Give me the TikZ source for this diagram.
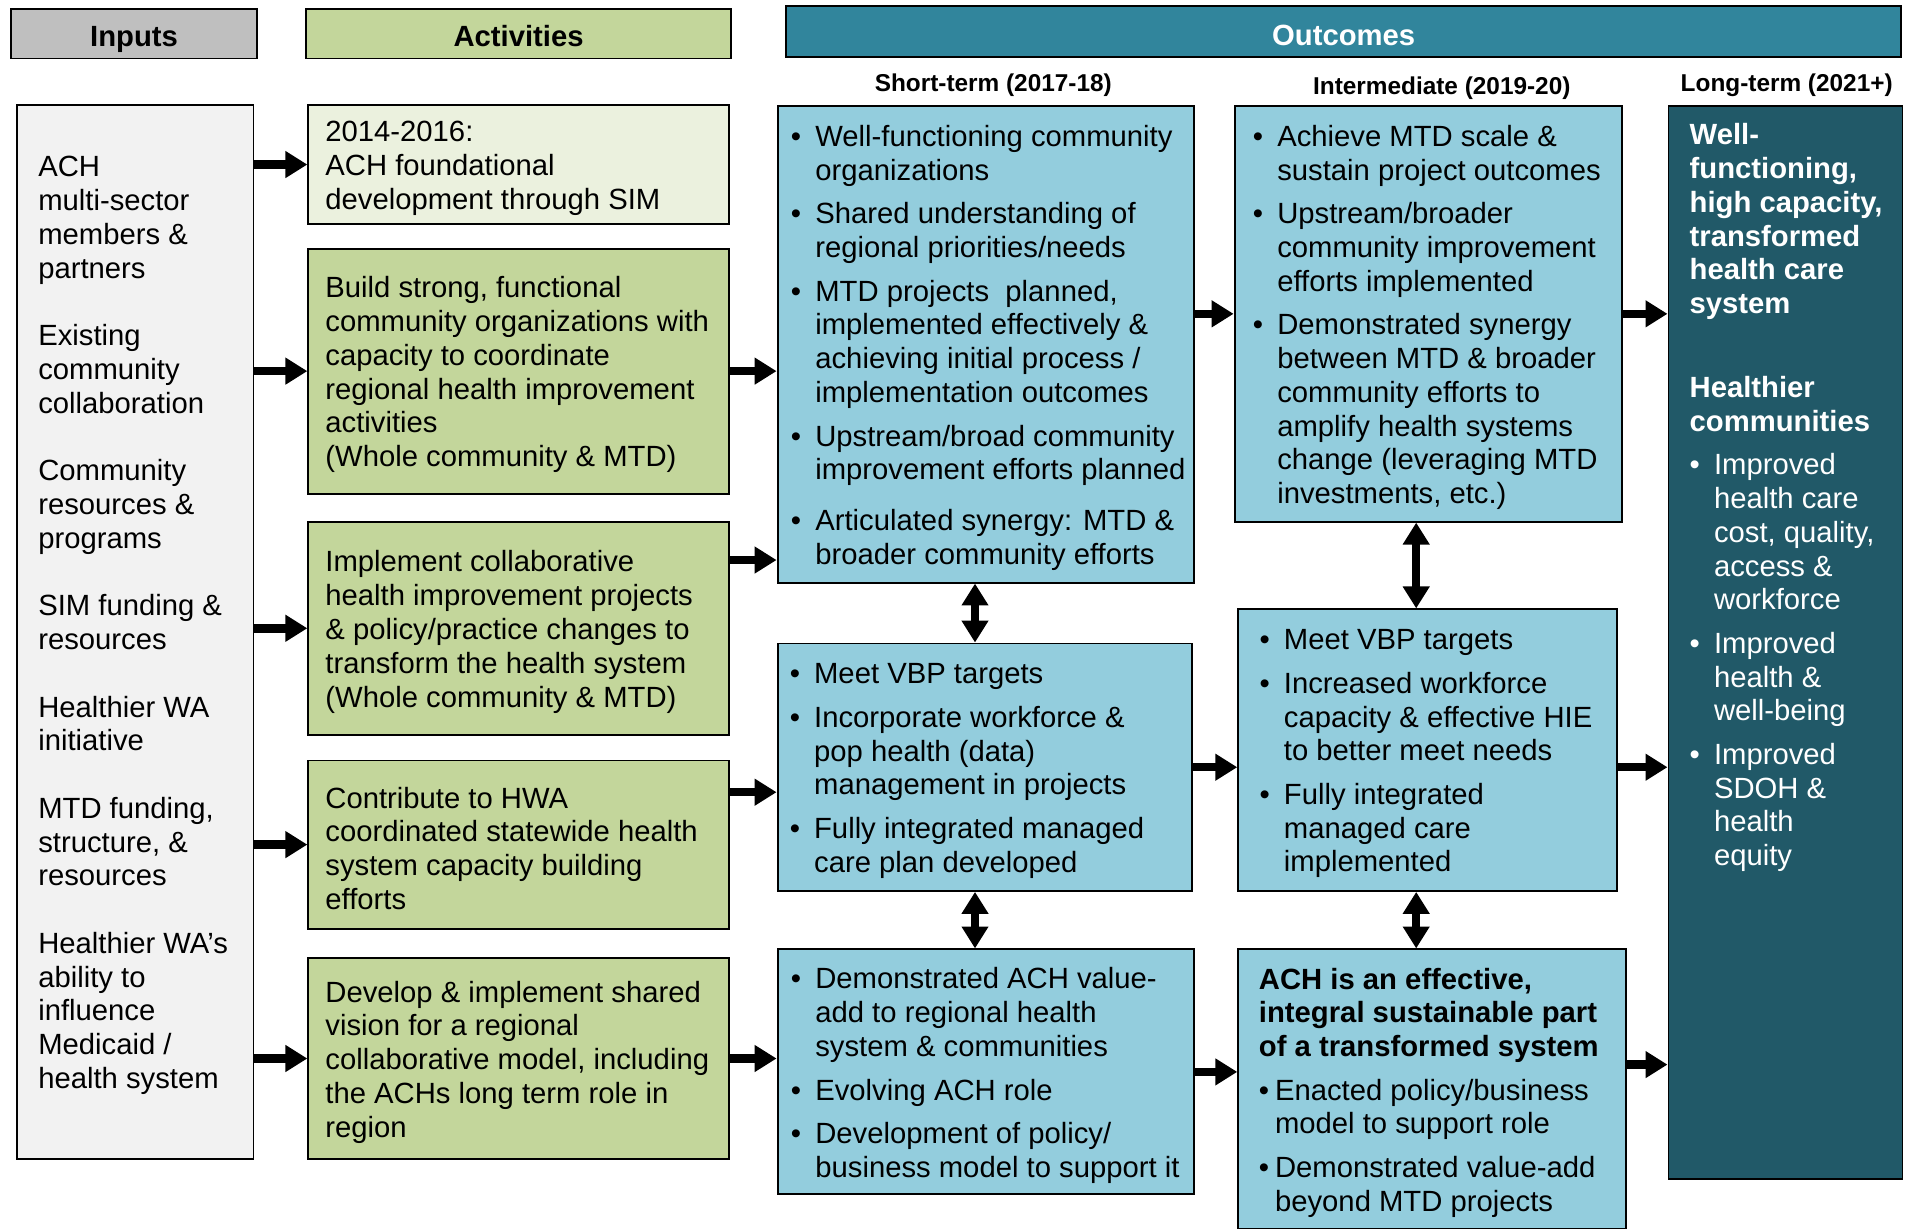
\documentclass[tikz,border=0pt]{standalone}
\usepackage{fontspec}
\setmainfont{Liberation Sans}
\usepackage{xcolor}
\usetikzlibrary{arrows.meta}

\definecolor{ingray}{HTML}{BFBFBF}
\definecolor{infill}{HTML}{F2F2F2}
\definecolor{actgreen}{HTML}{C3D69B}
\definecolor{actlight}{HTML}{EBF1DE}
\definecolor{outteal}{HTML}{31859C}
\definecolor{outblue}{HTML}{93CDDD}
\definecolor{ltteal}{HTML}{215968}

\newcommand{\bitem}[1][10pt]{\par\hangindent=#1\hangafter=1\noindent\makebox[#1][l]{\textbullet}}
\newcommand{\boxtext}[2]{\begin{minipage}{#1}\vspace*{3pt}\fontsize{12}{13.85}\selectfont\raggedright\setlength{\parskip}{4pt}#2\end{minipage}}

\tikzset{
    head/.style={draw, line width=0.8pt, minimum height=20.5pt, text height=11pt, text depth=0pt, font=\bfseries\fontsize{12}{14}\selectfont},
    period/.style={font=\bfseries\fontsize{10}{12}\selectfont},
    box/.style={draw, line width=0.8pt, inner sep=0pt},
    arr/.style={line width=3.5pt, -{Triangle[length=9pt,width=10.5pt]}},
    darr/.style={line width=3.3pt, {Triangle[length=9pt,width=10.5pt]}-{Triangle[length=9pt,width=10.5pt]}}
}

\begin{document}
\begin{tikzpicture}[x=0.5pt, y=-0.5pt]
        \useasboundingbox (0,0) rectangle (1568,1008);

        % column headings
        \node[head, fill=ingray, minimum width=101pt] (inhead) at (110,27.5) {Inputs};
        \node[head, fill=actgreen, minimum width=174.5pt] (acthead) at (425.5,27.5) {Activities};
        \node[head, fill=outteal, text=white, minimum width=457.5pt, minimum height=21pt] (outhead) at (1102.5,26) {Outcomes};

        \node[period] (shortlabel) at (815,70) {Short-term (2017-18)};
        \node[period] (midlabel) at (1183,72) {Intermediate (2019-20)};
        \node[period] (longlabel) at (1466,70) {Long-term (2021+)};

        % inputs
        \node[box, fill=infill, minimum width=97pt, minimum height=432.5pt] (inputs) at (111,518.5) {};
        \node[anchor=north west, inner sep=0pt] (inputstext) at (31,122) {\boxtext{88pt}{ACH\\multi-sector\\members \&\\partners\\[13.85pt]
            Existing\\community\\collaboration\\[13.85pt]
            Community\\resources \&\\programs\\[13.85pt]
            SIM funding \&\\resources\\[13.85pt]
            Healthier WA\\initiative\\[13.85pt]
            MTD funding,\\structure, \&\\resources\\[13.85pt]
            Healthier WA’s\\ability to\\influence\\Medicaid /\\health system}};

        % activities
        \node[box, fill=actlight, minimum width=172.5pt, minimum height=49pt] (act1) at (425.5,135) {\boxtext{158.5pt}{2014-2016:\\ACH foundational\\development through SIM}};
        \node[box, fill=actgreen, minimum width=172.5pt, minimum height=100.5pt] (act2) at (425.5,304.5) {\boxtext{158.5pt}{Build strong, functional\\community organizations with\\capacity to coordinate\\regional health improvement\\activities\\(Whole community \& MTD)}};
        \node[box, fill=actgreen, minimum width=172.5pt, minimum height=87.5pt] (act3) at (425.5,515.5) {\boxtext{158.5pt}{Implement collaborative\\health improvement projects\\\& policy/practice changes to\\transform the health system\\(Whole community \& MTD)}};
        \node[box, fill=actgreen, minimum width=172.5pt, minimum height=69pt] (act4) at (425.5,693) {\boxtext{158.5pt}{Contribute to HWA\\coordinated statewide health\\system capacity building\\efforts}};
        \node[box, fill=actgreen, minimum width=172.5pt, minimum height=82.5pt] (act5) at (425.5,868.5) {\boxtext{158.5pt}{Develop \& implement shared\\vision for a regional\\collaborative model, including\\the ACHs long term role in\\region}};

        % short-term outcomes
        \node[box, fill=outblue, minimum width=171pt, minimum height=195.5pt] (st1) at (809,282.5) {\boxtext{160pt}{%
            \bitem Well-functioning community\newline organizations
            \bitem Shared understanding of\newline regional priorities/needs
            \bitem MTD projects\ \ planned,\newline implemented effectively \&\newline achieving initial process /\newline implementation outcomes
            \bitem Upstream/broad community\newline \mbox{improvement efforts planned}
            \par\vspace{3pt}
            \bitem Articulated synergy: MTD \&\newline broader community efforts}};
        \node[box, fill=outblue, minimum width=170pt, minimum height=101.5pt] (st2) at (808,629.5) {\boxtext{160pt}{%
            \bitem Meet VBP targets
            \bitem Incorporate workforce \&\newline pop health (data)\newline management in projects
            \bitem Fully integrated managed\newline care plan developed}};
        \node[box, fill=outblue, minimum width=171pt, minimum height=100.5pt] (st3) at (809,879.5) {\boxtext{160pt}{%
            \bitem Demonstrated ACH value-\newline add to regional health\newline system \& communities
            \bitem Evolving ACH role
            \bitem Development of policy/\newline \mbox{business model to support it}}};

        % intermediate outcomes
        \node[box, fill=outblue, minimum width=159pt, minimum height=170.5pt] (int1) at (1172,257.5) {\boxtext{144pt}{%
            \bitem Achieve MTD scale \&\newline sustain project outcomes
            \bitem Upstream/broader\newline community improvement\newline efforts implemented
            \bitem Demonstrated synergy\newline between MTD \& broader\newline community efforts to\newline amplify health systems\newline change (leveraging MTD\newline investments, etc.)}};
        \node[box, fill=outblue, minimum width=155.5pt, minimum height=115.5pt] (int2) at (1171.5,615.5) {\boxtext{138pt}{%
            \bitem Meet VBP targets
            \bitem Increased workforce\newline capacity \& effective HIE\newline to better meet needs
            \bitem Fully integrated\newline managed care\newline implemented}};
        \node[box, fill=outblue, minimum width=159pt, minimum height=114.5pt] (int3) at (1175,893.5) {\boxtext{142pt}{%
            {\bfseries ACH is an effective,\newline integral sustainable part\newline of a transformed system\par}
            \bitem[6.6pt]Enacted policy/business\newline model to support role
            \bitem[6.6pt]Demonstrated value-add\newline beyond MTD projects}};

        % long-term outcomes
        \node[box, fill=ltteal, minimum width=96pt, minimum height=440pt] (lt) at (1465,527) {};
        \node[anchor=north west, inner sep=0pt, text=white] (lttext) at (1386,95) {\boxtext{84pt}{%
            {\bfseries Well-\\functioning,\\high capacity,\\transformed\\health care\\system\par}
            \vspace{16.6pt}
            {\bfseries Healthier\\communities\par}
            \bitem Improved\newline health care\newline cost, quality,\newline access \&\newline workforce
            \bitem Improved\newline health \&\newline well-being
            \bitem Improved\newline SDOH \&\newline health\newline equity}};

        % inputs to activities
        \foreach \a in {act1,act2,act3,act4,act5}
            \draw[arr] (inputs.east |- \a.west) -- (\a.west);

        % activities to short-term
        \draw[arr] (act2.east) -- (act2.east -| st1.west);
        \draw[arr] ([yshift=28pt]act3.east) -- ([yshift=28pt]act3.east -| st1.west);
        \draw[arr] ([yshift=21.5pt]act4.east) -- ([yshift=21.5pt]act4.east -| st2.west);
        \draw[arr] (act5.east) -- (act5.east -| st3.west);

        % short-term to intermediate
        \draw[arr] (st1.east |- int1.west) -- (int1.west);
        \draw[arr] (st2.east) -- (st2.east -| int2.west);
        \draw[arr] (st3.east) -- (st3.east -| int3.west);

        % intermediate to long-term
        \draw[arr] (int1.east) -- (int1.east -| lt.west);
        \draw[arr] (int2.east |- st2.east) -- (st2.east -| lt.west);
        \draw[arr] ([yshift=10pt]int3.east) -- ([yshift=10pt]int3.east -| lt.west);

        % up and down between rows
        \draw[darr] ([xshift=-4.5pt]st1.south) -- ([xshift=-4.5pt]st1.south |- st2.north);
        \draw[darr] ([xshift=-4pt]st2.south) -- ([xshift=-4pt]st2.south |- st3.north);
        \draw[darr] ([xshift=-5pt]int1.south) -- ([xshift=-5pt]int1.south |- int2.north);
        \draw[darr] ([xshift=-4.75pt]int2.south) -- ([xshift=-4.75pt]int2.south |- int3.north);

    \end{tikzpicture}
\end{document}
